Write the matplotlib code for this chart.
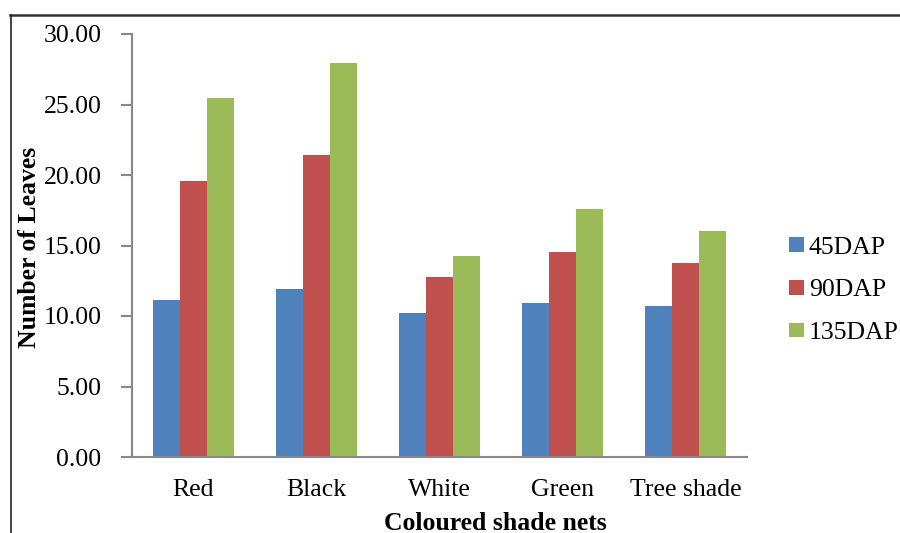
import numpy as np
import matplotlib
matplotlib.use("Agg")
import matplotlib.pyplot as plt
from matplotlib.lines import Line2D

plt.rcParams['font.family'] = ['Liberation Serif', 'DejaVu Serif']

categories = ["Red", "Black", "White", "Green", "Tree shade"]
series_names = ["45DAP", "90DAP", "135DAP"]
dap45 = [11.11, 11.94, 10.24, 10.92, 10.69]
dap90 = [19.60, 21.42, 12.79, 14.57, 13.74]
dap135 = [25.45, 27.93, 14.23, 17.60, 16.01]
colors = ["#4F81BD", "#C0504D", "#9BBB59"]
yticks = [0, 5, 10, 15, 20, 25, 30]

fig = plt.figure(figsize=(9, 5.33), dpi=100)
ax = fig.add_axes([132/900, 1-457/533, (747-132)/900, (457-34)/533])

x = np.arange(len(categories))
w = 0.22
for i, (vals, name) in enumerate(zip([dap45, dap90, dap135], series_names)):
    ax.bar(x + (i-1)*w, vals, w, color=colors[i], label=name, zorder=2)

ax.set_xlim(-0.5, len(categories)-0.5)
ax.set_ylim(0, 30)
ax.set_yticks(yticks)
ax.set_yticklabels(["%.2f" % v for v in yticks], fontsize=18.5)
ax.set_xticks(x)
ax.set_xticklabels(categories, fontsize=18.5)

for s in ["top", "right"]:
    ax.spines[s].set_visible(False)
for s in ["left", "bottom"]:
    ax.spines[s].set_color("#888888")
    ax.spines[s].set_linewidth(1.5)
ax.tick_params(axis="y", length=8, width=1.5, color="#888888", pad=14)
ax.tick_params(axis="x", length=0, pad=16)

fig.text(30/900, 1-247/533, "Number of Leaves", rotation=90, fontsize=18.5,
         fontweight="bold", ha="center", va="center")
fig.text(495/900, 1-523/533, "Coloured shade nets", fontsize=18.5,
         fontweight="bold", ha="center", va="center")

ax.legend(loc="center left", bbox_to_anchor=(1.044, 0.394), frameon=False,
          fontsize=18.5, handlelength=0.55, handleheight=0.5, handletextpad=0.2,
          labelspacing=0.81, borderaxespad=0.2)

# chart border (top and left only visible)
fig.add_artist(Line2D([10/900, 1], [1-15/533, 1-15/533], color="#333333", lw=1.8,
                      transform=fig.transFigure))
fig.add_artist(Line2D([10.5/900, 10.5/900], [0, 1-15/533], color="#222222", lw=1.2,
                      transform=fig.transFigure))

fig.savefig("out.png", dpi=100)
